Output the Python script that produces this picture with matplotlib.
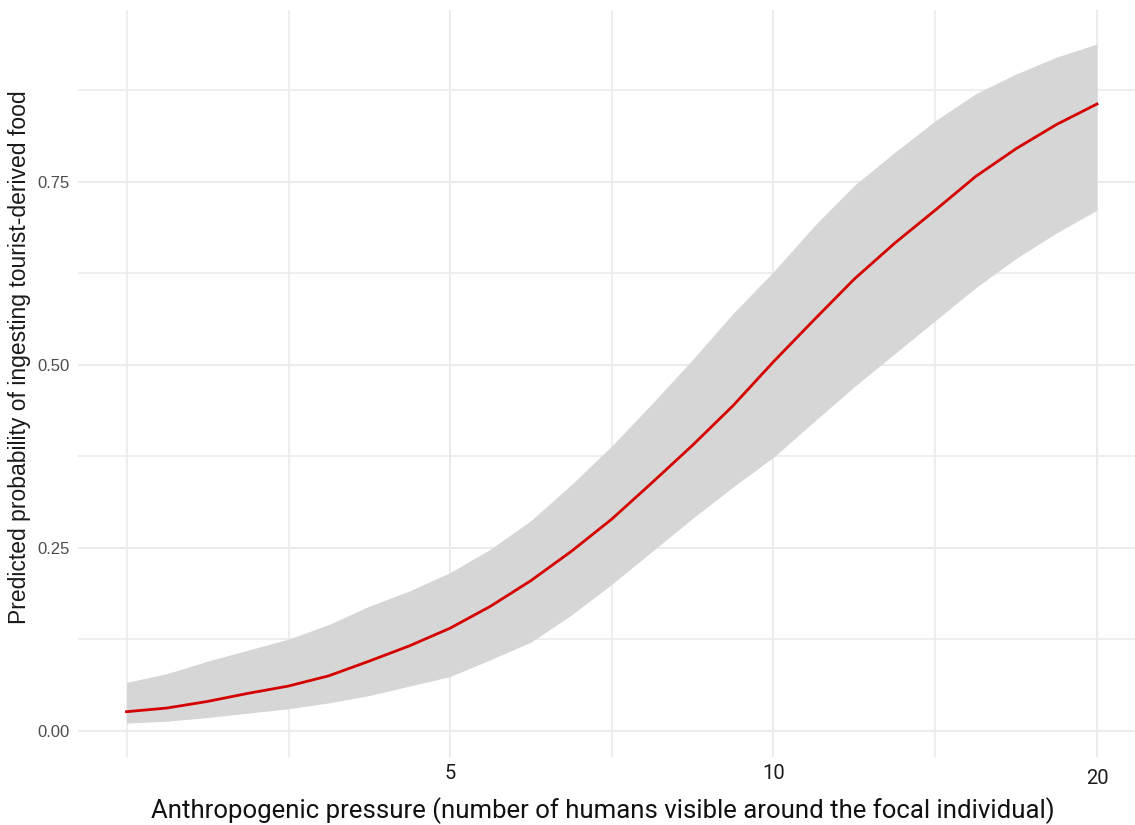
import numpy as np
import matplotlib
matplotlib.use("Agg")
import matplotlib.pyplot as plt
from matplotlib.ticker import FixedLocator, NullFormatter
import matplotlib.transforms as mtransforms

# values (humans visible, predicted probability, 95% band)
humans = [2.5, 2.726, 2.973, 3.242, 3.536, 3.856, 4.204, 4.585, 5.0,
          5.453, 5.946, 6.484, 7.071, 7.711, 8.409, 9.170, 10.0,
          10.905, 11.892, 12.968, 14.142, 15.422, 16.818, 18.34, 20.0]
prob = [0.026, 0.031, 0.040, 0.051, 0.061, 0.075, 0.095, 0.116, 0.140,
        0.170, 0.205, 0.245, 0.289, 0.339, 0.390, 0.444, 0.504,
        0.561, 0.617, 0.666, 0.711, 0.757, 0.795, 0.828, 0.856]
upper = [0.066, 0.078, 0.095, 0.110, 0.125, 0.145, 0.170, 0.191, 0.216,
         0.248, 0.287, 0.336, 0.389, 0.447, 0.507, 0.570, 0.627,
         0.689, 0.745, 0.790, 0.833, 0.870, 0.897, 0.920, 0.938]
lower = [0.0105, 0.013, 0.018, 0.024, 0.030, 0.038, 0.048, 0.061, 0.074,
         0.097, 0.121, 0.158, 0.200, 0.245, 0.290, 0.333, 0.3735,
         0.422, 0.470, 0.515, 0.560, 0.605, 0.645, 0.680, 0.711]

x_breaks = [5, 10, 20]
x_minor = [2.5, 3.54, 7.07, 14.14]
y_breaks = [0.0, 0.25, 0.5, 0.75]
y_minor = [0.125, 0.375, 0.625, 0.875]

narrow = ["Liberation Sans Narrow", "Roboto", "DejaVu Sans"]

fig = plt.figure(figsize=(11.35, 8.25), dpi=100)
ax = fig.add_axes([78 / 1135, 1 - 757 / 825, 1067.5 / 1135, 747 / 825])

ax.fill_between(humans, lower, upper, color="#d6d6d6", lw=0, zorder=2)
ax.plot(humans, prob, color="#d40000", lw=2.0, zorder=3)

ax.set_xscale("log")
lx = np.log10([min(humans), max(humans)])
pad = 0.05 * (lx[1] - lx[0])
ax.set_xlim(10 ** (lx[0] - pad), 10 ** (lx[1] + pad))
ymin, ymax = min(lower), max(upper)
ypad = 0.05 * (ymax - ymin)
ax.set_ylim(ymin - ypad, ymax + ypad)

ax.xaxis.set_major_locator(FixedLocator(x_breaks))
ax.xaxis.set_minor_locator(FixedLocator(x_minor))
ax.set_xticklabels([str(v) for v in x_breaks])
ax.xaxis.set_minor_formatter(NullFormatter())
ax.yaxis.set_major_locator(FixedLocator(y_breaks))
ax.yaxis.set_minor_locator(FixedLocator(y_minor))
ax.set_yticklabels([f"{v:.2f}" for v in y_breaks])

ax.grid(which="major", color="#ebebeb", lw=1.4, zorder=0)
ax.grid(which="minor", color="#ebebeb", lw=1.2, zorder=0)
ax.set_axisbelow(True)
for s in ax.spines.values():
    s.set_visible(False)
ax.tick_params(which="both", length=0)
ax.tick_params(axis="y", labelsize=12, labelcolor="#4d4d4d", pad=6)
ax.tick_params(axis="x", labelsize=14.5, labelcolor="#1a1a1a", pad=5)
for t in ax.get_xticklabels():
    t.set_family(narrow)
for t in ax.get_yticklabels():
    t.set_family("Liberation Sans")
# the "20" label sits a little lower in the reference
lab20 = ax.get_xticklabels()[-1]
lab20.set_transform(lab20.get_transform() + mtransforms.ScaledTranslation(0, -5 / 100, fig.dpi_scale_trans))

fig.text(20 / 1135, 1 - 357 / 825, "Predicted probability of ingesting tourist-derived food",
         rotation=90, ha="center", va="center", fontsize=16.5,
         family="Liberation Sans", color="#1a1a1a")
fig.text(603 / 1135, 1 - 811 / 825,
         "Anthropogenic pressure (number of humans visible around the focal individual)",
         ha="center", va="center", fontsize=18.5, family=narrow, color="#111111")

fig.savefig("out.png", dpi=100)
